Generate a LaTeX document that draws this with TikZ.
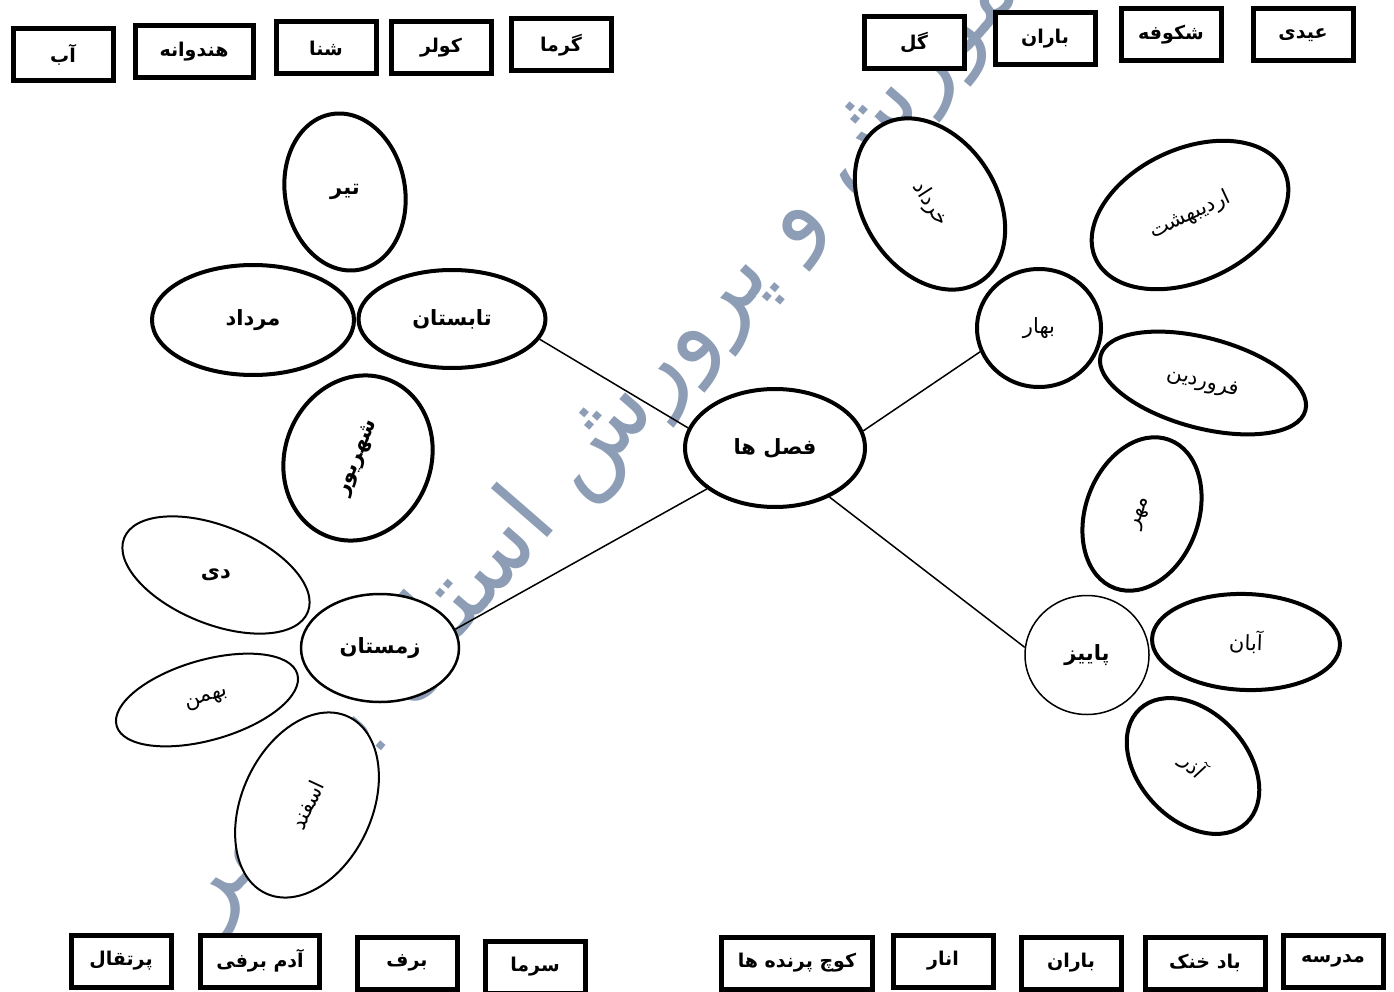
\documentclass[tikz,border=0pt]{standalone}
\usepackage{fontspec}
\newfontfamily\fa[Script=Arabic]{DejaVu Sans}
\TeXXeTstate=1
\usetikzlibrary{shapes.geometric}
\newcommand{\fw}[1]{\beginR#1\endR}
\definecolor{wmblue}{RGB}{140,157,181}

\begin{document}
\begin{tikzpicture}[x=1pt,y=-1pt,
  word/.style={draw,fill=white,line width=5pt,minimum width=100pt,minimum height=52pt,inner sep=0pt,font=\fa\bfseries\fontsize{19}{22}\selectfont},
  petal/.style={ellipse,draw,fill=white,line width=4pt,inner sep=0pt,font=\fa\fontsize{21}{24}\selectfont},
  boldpetal/.style={petal,font=\fa\bfseries\fontsize{21}{24}\selectfont},
  thinpetal/.style={petal,line width=2pt},
  link/.style={line width=1.5pt}]
\useasboundingbox (0,0) rectangle (1394,992);

% watermark
\node[text=wmblue,rotate=49,font=\fa\fontsize{98}{110}\selectfont] (wm) at (600,425) {\fw{آموزش و پرورش استان بوشهر}};

% center and seasons
\node[boldpetal,minimum width=180pt,minimum height=118pt] (F) at (775,448) {\fw{فصل ها}};
\node[boldpetal,minimum width=187pt,minimum height=98pt] (T) at (452,319) {\fw{تابستان}};
\node[petal,minimum width=124pt,minimum height=118pt] (B) at (1039,328) {\fw{بهار}};
\node[boldpetal,line width=1.5pt,minimum width=124pt,minimum height=119pt] (P) at (1087,655) {\fw{پاییز}};
\node[boldpetal,line width=2.5pt,minimum width=158pt,minimum height=108pt] (Z) at (380,648) {\fw{زمستان}};

% summer
\node[boldpetal,minimum width=202pt,minimum height=110pt] (T1) at (253,320) {\fw{مرداد}};
\node[boldpetal,rotate=100,minimum width=158pt,minimum height=120pt] (T2) at (345,192) {\rotatebox{-100}{\fw{تیر}}};
\node[boldpetal,rotate=68,minimum width=168pt,minimum height=146pt] (T3) at (358,458) {\fw{شهریور}};

% spring
\node[petal,rotate=-57,minimum width=185pt,minimum height=133pt] (B1) at (930,204) {\fw{خرداد}};
\node[petal,rotate=25,minimum width=208pt,minimum height=132pt] (B2) at (1190,215) {\fw{اردیبهشت}};
\node[petal,rotate=-15,minimum width=212pt,minimum height=90pt] (B3) at (1203,383) {\fw{فروردین}};

% autumn
\node[petal,rotate=70,minimum width=158pt,minimum height=113pt] (P1) at (1142,514) {\fw{مهر}};
\node[petal,rotate=-2,minimum width=188pt,minimum height=96pt] (P2) at (1246,642) {\fw{آبان}};
\node[petal,rotate=-47,minimum width=156pt,minimum height=108pt] (P3) at (1193,766) {\fw{آذر}};

% winter
\node[thinpetal,rotate=-22,minimum width=198pt,minimum height=98pt,font=\fa\bfseries\fontsize{21}{24}\selectfont] (Z1) at (216,575) {\rotatebox{22}{\fw{دی}}};
\node[thinpetal,rotate=16,minimum width=188pt,minimum height=80pt] (Z2) at (207,700) {\fw{بهمن}};
\node[thinpetal,rotate=65,minimum width=195pt,minimum height=130pt] (Z3) at (307,805) {\fw{اسفند}};

\path[link] (F.167) edge (T.-13)
            (F.211) edge (Z.14)
            (F.11) edge (B.202)
            (F.-42) edge (P.173);

% word boxes
\node[word] (K1) at (63,55) {\fw{آب}};
\node[word,minimum width=118pt] (K2) at (194,52) {\fw{هندوانه}};
\node[word] (K3) at (326,48) {\fw{شنا}};
\node[word] (K4) at (441,48) {\fw{کولر}};
\node[word] (K5) at (561,45) {\fw{گرما}};
\node[word] (K6) at (914,43) {\fw{گل}};
\node[word] (K7) at (1045,39) {\fw{باران}};
\node[word] (K8) at (1171,35) {\fw{شکوفه}};
\node[word] (K9) at (1303,35) {\fw{عیدی}};
\node[word] (K10) at (121,961) {\fw{پرتقال}};
\node[word,minimum width=119pt] (K11) at (260,961) {\fw{آدم برفی}};
\node[word] (K12) at (407,963) {\fw{برف}};
\node[word] (K13) at (535,967) {\fw{سرما}};
\node[word,minimum width=151pt] (K14) at (797,963) {\fw{کوچ پرنده ها}};
\node[word] (K15) at (943,961) {\fw{انار}};
\node[word] (K16) at (1071,963) {\fw{باران}};
\node[word,minimum width=120pt] (K17) at (1205,963) {\fw{باد خنک}};
\node[word] (K18) at (1333,961) {\fw{مدرسه}};
\end{tikzpicture}
\end{document}
